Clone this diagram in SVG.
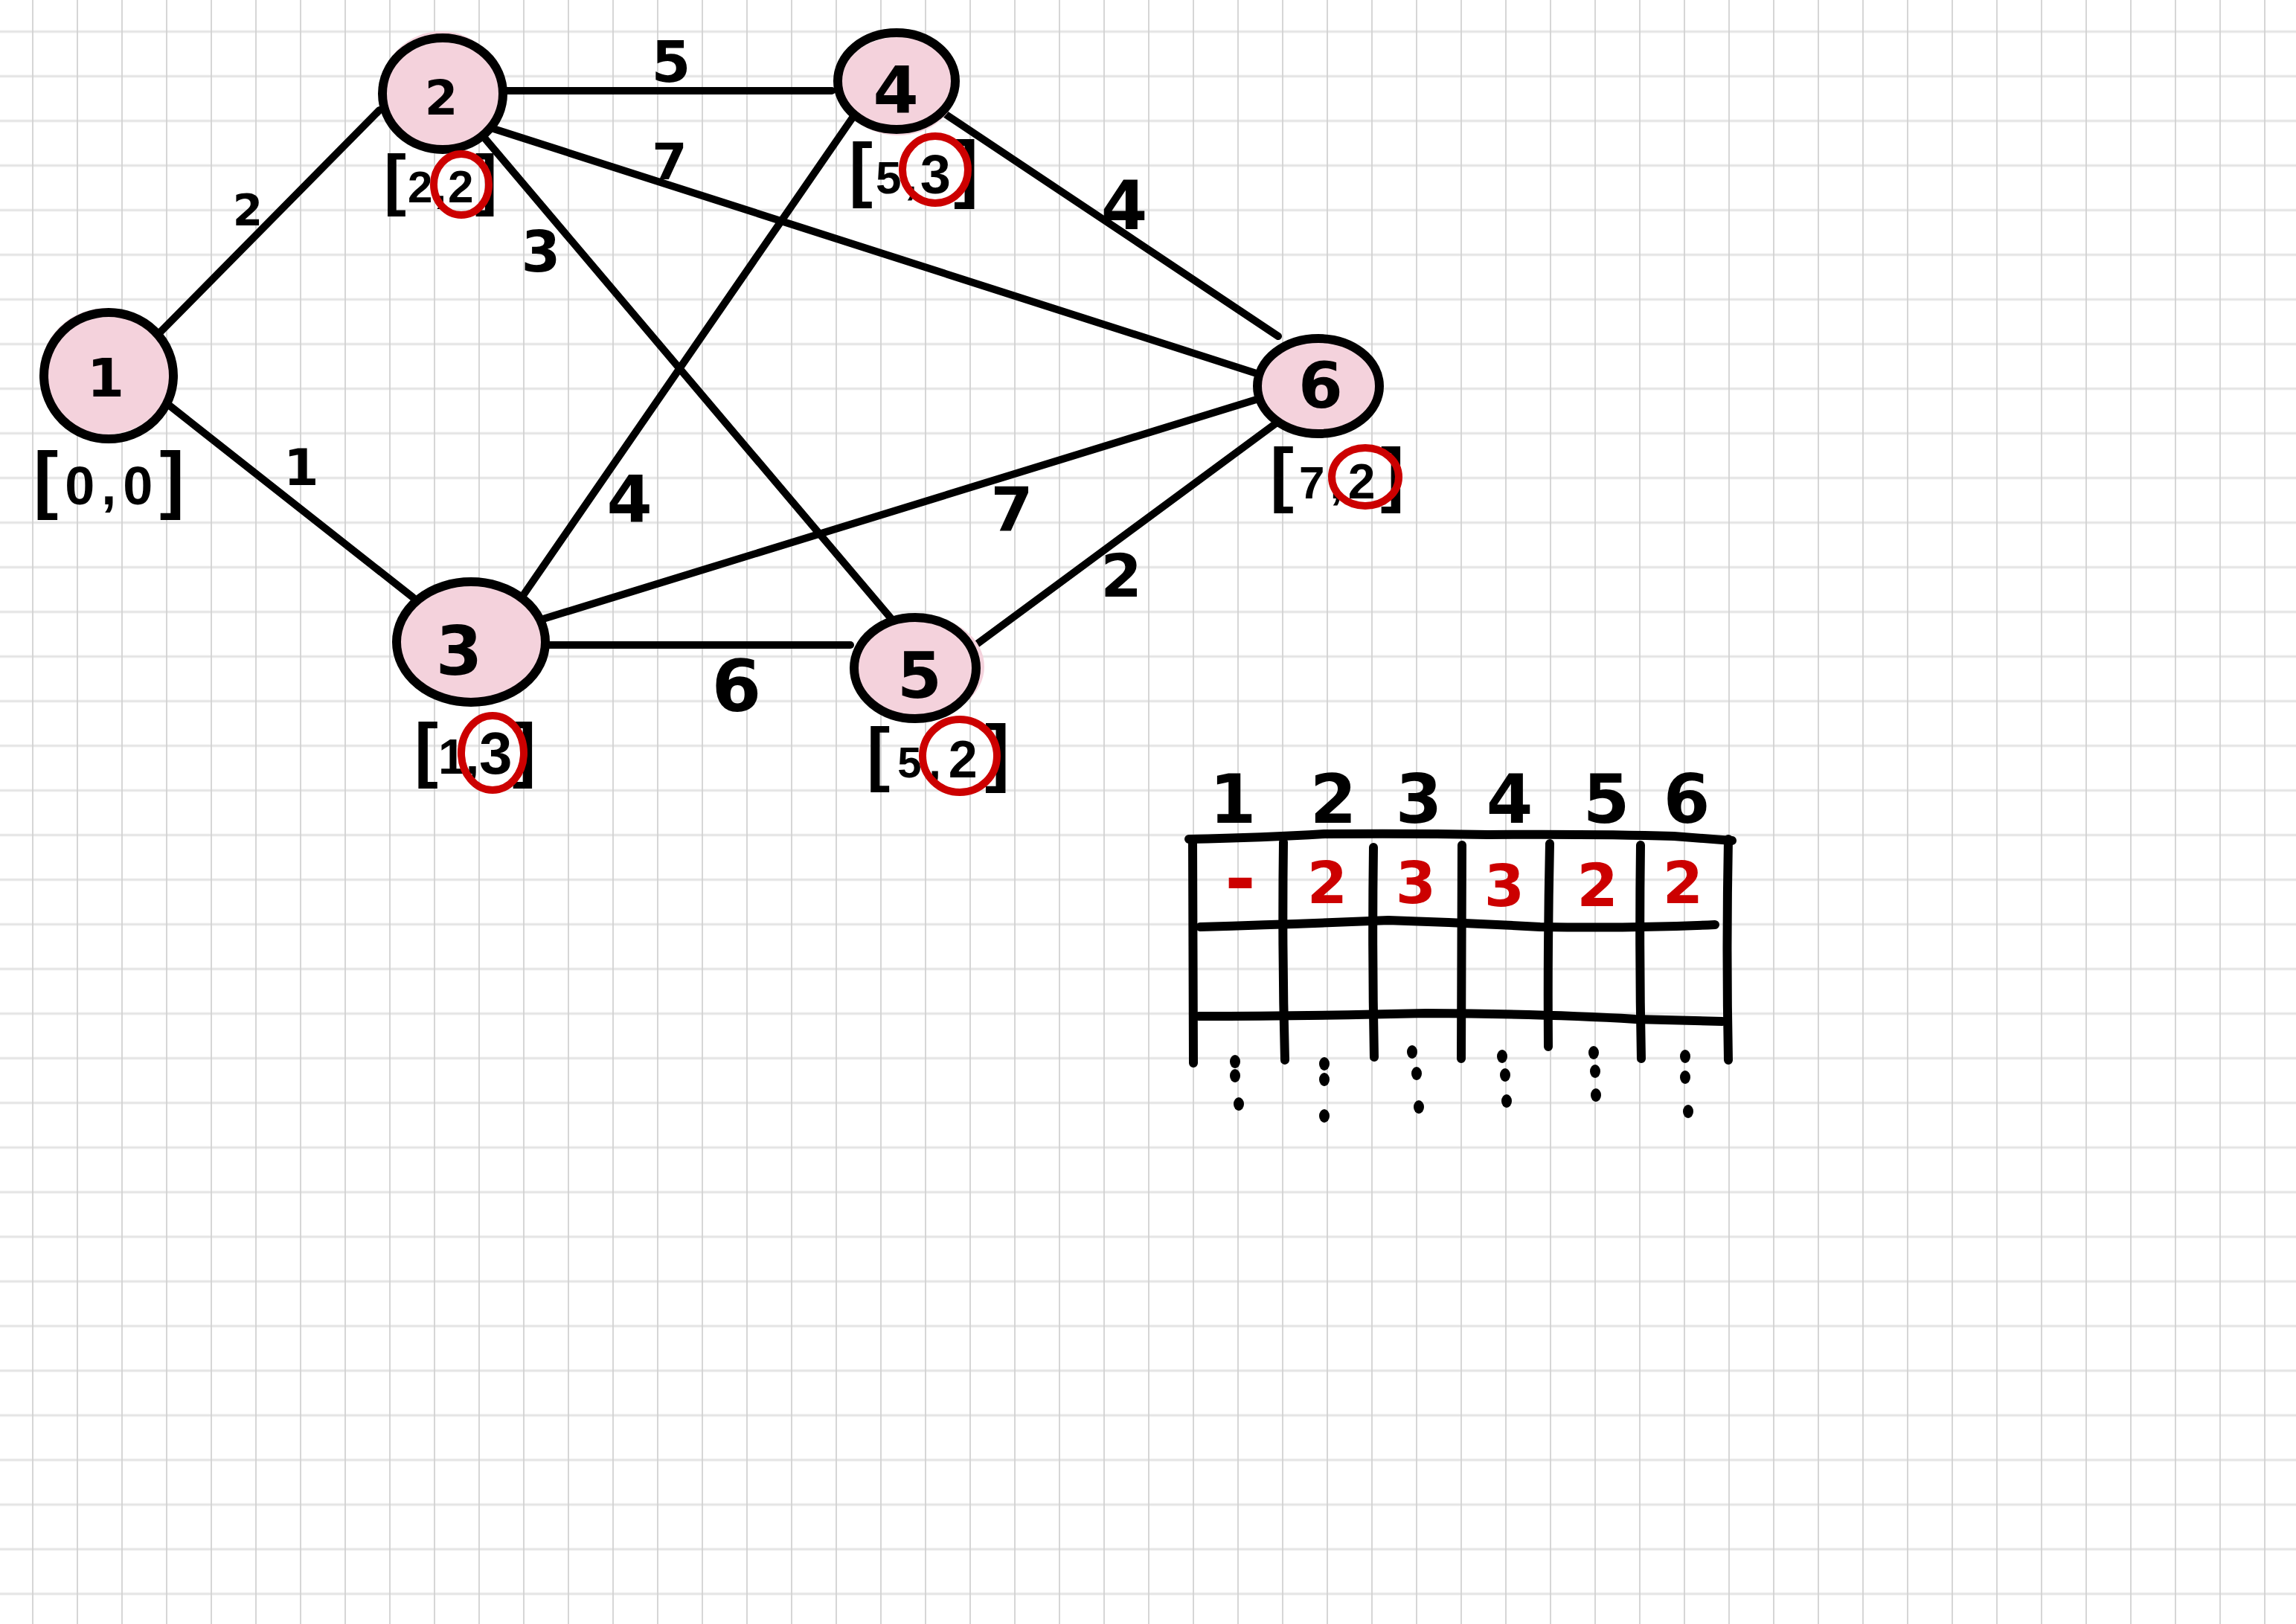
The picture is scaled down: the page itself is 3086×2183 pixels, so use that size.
<svg xmlns="http://www.w3.org/2000/svg" width="3086" height="2183" viewBox="0 0 3086 2183">
<style>
.edge{stroke:#000;stroke-width:10;stroke-linecap:round;fill:none}
.pink{fill:#f4d2dc;stroke:none}
.ring{fill:none;stroke:#000;stroke-width:12}
.red{fill:none;stroke:#cc0000;stroke-width:10}
.t{font-family:"DejaVu Sans","Liberation Sans",sans-serif;font-weight:bold;fill:#000;text-anchor:middle}
.br{font-family:"Liberation Sans","DejaVu Sans",sans-serif;font-weight:bold;fill:#000;text-anchor:start}
.rv{font-family:"DejaVu Sans","Liberation Sans",sans-serif;font-weight:bold;fill:#cc0000;text-anchor:middle}
.tb{stroke:#000;stroke-width:12;stroke-linecap:round;fill:none}
.dot{fill:#000}
</style>
<defs>
<pattern id="grid" patternUnits="userSpaceOnUse" x="14" y="12.5" width="60" height="60">
<line x1="0" y1="30" x2="60" y2="30" stroke="#e3e3e3" stroke-width="3"/>
<line x1="30" y1="0" x2="30" y2="60" stroke="#d2d2d2" stroke-width="1.8"/>
</pattern>
</defs>
<rect width="3086" height="2183" fill="#ffffff"/>
<rect width="3086" height="2183" fill="url(#grid)"/>

<g id="connectors">
<g id="e1-2"><line class="edge" x1="201" y1="461" x2="510" y2="148"/><text class="t" x="333" y="303" font-size="58">2</text></g>
<g id="e1-3"><line class="edge" x1="220" y1="539" x2="555" y2="803"/><text class="t" x="405" y="652" font-size="68">1</text></g>
<g id="e2-4"><line class="edge" x1="676" y1="122" x2="1118" y2="122"/><text class="t" x="902" y="110" font-size="76">5</text></g>
<g id="e2-6"><line class="edge" x1="660" y1="172" x2="1692" y2="503"/><text class="t" x="900" y="241" font-size="68">7</text></g>
<g id="e2-5"><line class="edge" x1="650" y1="184" x2="1205" y2="840"/><text class="t" x="727" y="365" font-size="76">3</text></g>
<g id="e3-4"><line class="edge" x1="693" y1="815" x2="1146" y2="158"/><text class="t" x="846" y="702" font-size="88">4</text></g>
<g id="e3-6"><line class="edge" x1="730" y1="832" x2="1692" y2="536"/><text class="t" x="1360" y="714" font-size="82">7</text></g>
<g id="e3-5"><line class="edge" x1="733" y1="867" x2="1143" y2="867" stroke-width="13"/><text class="t" x="990" y="956" font-size="96">6</text></g>
<g id="e4-6"><line class="edge" x1="1261" y1="147" x2="1718" y2="452"/><text class="t" x="1511" y="308" font-size="90">4</text></g>
<g id="e5-6"><line class="edge" x1="1310" y1="868" x2="1715" y2="569"/><text class="t" x="1507" y="802" font-size="80">2</text></g>
</g>

<g id="node-1">
<ellipse class="pink" cx="143" cy="499" rx="88" ry="85"/>
<ellipse class="ring" cx="146" cy="505" rx="87" ry="85"/>
<text class="t" x="142" y="533" font-size="72">1</text>
<text class="br" x="45" y="678" letter-spacing="9"><tspan font-size="100">[</tspan><tspan font-size="72">0,0</tspan><tspan font-size="100">]</tspan></text>
</g>

<g id="node-2">
<ellipse class="pink" cx="593" cy="120" rx="80" ry="78"/>
<ellipse class="ring" cx="595" cy="126" rx="81" ry="75"/>
<text class="t" x="593" y="154" font-size="64">2</text>
<text class="br" x="516" y="272" letter-spacing="2"><tspan font-size="90">[</tspan><tspan font-size="60">2,</tspan><tspan font-size="62">2</tspan><tspan font-size="90">]</tspan></text>
<ellipse class="red" cx="620" cy="248" rx="37" ry="41"/>
</g>

<g id="node-4">
<ellipse class="pink" cx="1207" cy="116" rx="79" ry="66"/>
<ellipse class="ring" cx="1205" cy="109" rx="79" ry="65"/>
<text class="t" x="1204" y="152" font-size="88">4</text>
<text class="br" x="1141" y="260" letter-spacing="4"><tspan font-size="96">[</tspan><tspan font-size="62">5,</tspan><tspan font-size="74">3</tspan><tspan font-size="100">]</tspan></text>
<ellipse class="red" cx="1257" cy="228" rx="44" ry="45"/>
</g>

<g id="node-6">
<ellipse class="pink" cx="1768" cy="519" rx="80" ry="69"/>
<ellipse class="ring" cx="1772" cy="519" rx="82" ry="64"/>
<text class="t" x="1775" y="548" font-size="86">6</text>
<text class="br" x="1707" y="670" letter-spacing="7"><tspan font-size="96">[</tspan><tspan font-size="62">7,</tspan><tspan font-size="66">2</tspan><tspan font-size="96">]</tspan></text>
<ellipse class="red" cx="1835" cy="641" rx="45" ry="39"/>
</g>

<g id="node-3">
<ellipse class="pink" cx="637" cy="860" rx="100" ry="82"/>
<ellipse class="ring" cx="633" cy="863" rx="100" ry="81"/>
<text class="t" x="617" y="907" font-size="90">3</text>
<text class="br" x="557" y="1040"><tspan font-size="96">[</tspan><tspan font-size="66">1,</tspan><tspan font-size="80">3</tspan><tspan font-size="96">]</tspan></text>
<ellipse class="red" cx="662" cy="1012" rx="42" ry="50"/>
</g>

<g id="node-5">
<ellipse class="pink" cx="1238" cy="896" rx="85" ry="68"/>
<ellipse class="ring" cx="1230" cy="898" rx="82" ry="68"/>
<text class="t" x="1236" y="938" font-size="86">5</text>
<text class="br" x="1165" y="1045" letter-spacing="10"><tspan font-size="94">[</tspan><tspan font-size="58">5,</tspan><tspan font-size="70">2</tspan><tspan font-size="100">]</tspan></text>
<ellipse class="red" cx="1290" cy="1016" rx="50" ry="49"/>
</g>

<g id="table">
<path class="tb" d="M1598,1128 Q1700,1126 1780,1121 Q1900,1120 2000,1122 Q2150,1121 2250,1124 L2328,1130"/>
<path class="tb" d="M1613,1246 Q1750,1242 1866,1237 Q1960,1240 2070,1246 Q2200,1248 2305,1243"/>
<path class="tb" d="M1611,1366 Q1750,1366 1917,1362 Q2080,1363 2198,1370 L2315,1373"/>
<path class="tb" d="M1603,1128 L1604,1429"/>
<path class="tb" d="M1725,1132 Q1723,1280 1727,1425"/>
<path class="tb" d="M1846,1139 Q1844,1280 1847,1421"/>
<path class="tb" d="M1965,1136 L1964,1423"/>
<path class="tb" d="M2083,1134 Q2080,1270 2081,1407"/>
<path class="tb" d="M2205,1136 Q2203,1280 2206,1423"/>
<path class="tb" d="M2323,1128 Q2320,1280 2323,1425"/>
<text class="t" x="1657" y="1106" font-size="90">1</text>
<text class="t" x="1792" y="1106" font-size="90">2</text>
<text class="t" x="1907" y="1106" font-size="90">3</text>
<text class="t" x="2029" y="1106" font-size="90">4</text>
<text class="t" x="2159" y="1106" font-size="90">5</text>
<text class="t" x="2267" y="1106" font-size="90">6</text>
<text class="rv" x="1667" y="1216" font-size="100">-</text>
<text class="rv" x="1784" y="1214" font-size="78">2</text>
<text class="rv" x="1903" y="1214" font-size="78">3</text>
<text class="rv" x="2022" y="1218" font-size="78">3</text>
<text class="rv" x="2147" y="1218" font-size="80">2</text>
<text class="rv" x="2262" y="1214" font-size="78">2</text>
<g id="dots">
<ellipse class="dot" cx="1660" cy="1427" rx="7" ry="9"/><ellipse class="dot" cx="1660" cy="1446" rx="7" ry="9"/><ellipse class="dot" cx="1665" cy="1484" rx="7" ry="9"/>
<ellipse class="dot" cx="1780" cy="1430" rx="7" ry="9"/><ellipse class="dot" cx="1780" cy="1451" rx="7" ry="9"/><ellipse class="dot" cx="1780" cy="1500" rx="7" ry="9"/>
<ellipse class="dot" cx="1898" cy="1414" rx="7" ry="9"/><ellipse class="dot" cx="1904" cy="1443" rx="7" ry="9"/><ellipse class="dot" cx="1907" cy="1488" rx="7" ry="9"/>
<ellipse class="dot" cx="2019" cy="1420" rx="7" ry="9"/><ellipse class="dot" cx="2023" cy="1445" rx="7" ry="9"/><ellipse class="dot" cx="2025" cy="1480" rx="7" ry="9"/>
<ellipse class="dot" cx="2142" cy="1415" rx="7" ry="9"/><ellipse class="dot" cx="2144" cy="1440" rx="7" ry="9"/><ellipse class="dot" cx="2145" cy="1472" rx="7" ry="9"/>
<ellipse class="dot" cx="2265" cy="1420" rx="7" ry="9"/><ellipse class="dot" cx="2265" cy="1448" rx="7" ry="9"/><ellipse class="dot" cx="2269" cy="1494" rx="7" ry="9"/>
</g>
</g>
</svg>
